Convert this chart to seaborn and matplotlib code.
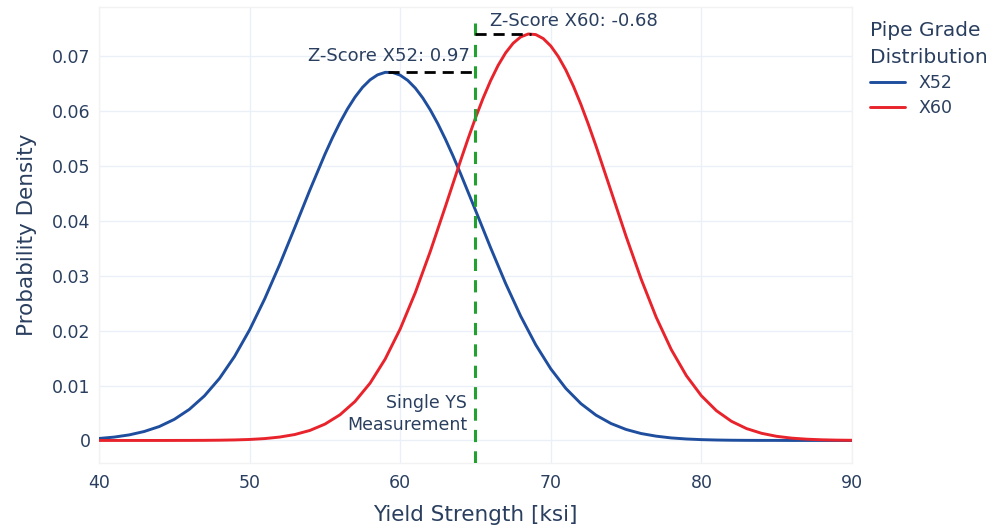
import numpy as np
import pandas as pd
import matplotlib
matplotlib.use('Agg')
import matplotlib.pyplot as plt
import seaborn as sns

# X52 curve: yield strength [ksi] and probability density
x52_strength = [40, 41, 42, 43, 44, 45, 46, 47, 48, 49, 50, 51, 52, 53, 54, 55, 55.5,
                56, 56.5, 57, 57.5, 58, 58.5, 59, 59.5, 60, 60.5, 61, 61.5, 62, 62.5,
                63, 63.5, 64, 65, 66, 67, 68, 69, 70, 71, 72, 73, 74, 75, 76, 77, 78,
                79, 80, 81, 82, 83, 84, 85, 86, 87, 88, 89, 90]
x52_density = [0.00036, 0.00061, 0.00101, 0.00163, 0.00253, 0.00384, 0.00566, 0.00811,
               0.01129, 0.01529, 0.02013, 0.02576, 0.03204, 0.03875, 0.04557, 0.05208,
               0.05509, 0.05786, 0.06035, 0.06250, 0.06428, 0.06564, 0.06655, 0.06700,
               0.06698, 0.06649, 0.06554, 0.06415, 0.06234, 0.06016, 0.05765, 0.05485,
               0.05183, 0.04862, 0.04190, 0.03510, 0.02858, 0.02263, 0.01741, 0.01303,
               0.00947, 0.00670, 0.00461, 0.00308, 0.00200, 0.00126, 0.00078, 0.00046,
               0.00027, 0.00015, 0.00008, 0.00004, 0.00002, 0.00001, 0.00001, 0.0, 0.0,
               0.0, 0.0, 0.0]

# X60 curve
x60_strength = [40, 41, 42, 43, 44, 45, 46, 47, 48, 49, 50, 51, 52, 53, 54, 55, 56, 57,
                58, 59, 60, 61, 62, 63, 64, 64.5, 65, 65.5, 66, 66.5, 67, 67.5, 68, 68.5,
                69, 69.5, 70, 70.5, 71, 71.5, 72, 72.5, 73, 74, 75, 76, 77, 78, 79, 80,
                81, 82, 83, 84, 85, 86, 87, 88, 89, 90]
x60_density = [0.0, 0.0, 0.0, 0.0, 0.0, 0.000005, 0.000011, 0.000023, 0.000048, 0.000095,
               0.00018, 0.00034, 0.00062, 0.00108, 0.00182, 0.00297, 0.00467, 0.00710,
               0.01043, 0.01480, 0.02030, 0.02689, 0.03442, 0.04257, 0.05086, 0.05487,
               0.05871, 0.06227, 0.06547, 0.06826, 0.07055, 0.07230, 0.07345, 0.07398,
               0.07388, 0.07315, 0.07180, 0.06987, 0.06742, 0.06449, 0.06116, 0.05750,
               0.05361, 0.04540, 0.03714, 0.02936, 0.02242, 0.01654, 0.01180, 0.00813,
               0.00541, 0.00348, 0.00216, 0.00130, 0.00075, 0.00042, 0.00023, 0.00012,
               0.00006, 0.00003]

grades = ["X52", "X60"]
measurement = 65
x52_peak = (59.2, 0.0670)
x60_peak = (68.7, 0.0740)
z_labels = ["Z-Score X52: 0.97", "Z-Score X60: -0.68"]

df = pd.concat([
    pd.DataFrame({"Yield Strength": x52_strength, "Density": x52_density, "Grade": "X52"}),
    pd.DataFrame({"Yield Strength": x60_strength, "Density": x60_density, "Grade": "X60"}),
], ignore_index=True)

text_color = "#2a3f5f"
grid_color = "#EBF0F8"
palette = {"X52": "#1f4e9e", "X60": "#e8232b"}

sns.set_style("white")
plt.rcParams['font.family'] = ['DejaVu Sans']

fig = plt.figure(figsize=(9.98, 5.29), dpi=100)
ax = fig.add_axes([0.0992, 0.1248, 0.7545, 0.862])

sns.lineplot(data=df, x="Yield Strength", y="Density", hue="Grade", hue_order=grades,
             palette=palette, linewidth=2.1, ax=ax, zorder=3)

ax.set_xlim(40, 90)
ax.set_ylim(-0.0041, 0.0789)
ax.set_xticks([40, 50, 60, 70, 80, 90])
ax.set_yticks([0, 0.01, 0.02, 0.03, 0.04, 0.05, 0.06, 0.07])
ax.set_yticklabels(["0", "0.01", "0.02", "0.03", "0.04", "0.05", "0.06", "0.07"])
ax.grid(True, color=grid_color, linewidth=1)
ax.set_axisbelow(True)
for s in ax.spines.values():
    s.set_color("#F2F2F2")
    s.set_linewidth(1)
ax.tick_params(axis='both', length=0, labelsize=12.5, colors=text_color)
ax.tick_params(axis='x', pad=8)
ax.tick_params(axis='y', pad=6)
ax.set_xlabel("Yield Strength [ksi]", fontsize=15.5, color=text_color, labelpad=9)
ax.set_ylabel("Probability Density", fontsize=15.5, color=text_color, labelpad=11)

# single measurement line
ax.plot([measurement, measurement], [-0.0041, 0.0776], color="#22a030",
        linewidth=2.2, linestyle=(0, (4, 3)), zorder=4)
ax.text(measurement - 0.55, 0.0048, "Single YS\nMeasurement", ha="right", va="center",
        fontsize=12.5, color=text_color, linespacing=1.25)

# peak-to-measurement markers
ax.plot([x52_peak[0], measurement], [x52_peak[1], x52_peak[1]], color="black",
        linewidth=2, linestyle=(0, (4, 2.5)), zorder=4)
ax.plot([measurement, x60_peak[0]], [x60_peak[1], x60_peak[1]], color="black",
        linewidth=2, linestyle=(0, (4, 2.5)), zorder=4)
ax.text(64.6, 0.0700, z_labels[0], ha="right", va="center", fontsize=13, color=text_color)
ax.text(65.95, 0.0764, z_labels[1], ha="left", va="center", fontsize=13, color=text_color)

leg = ax.legend(title="Pipe Grade\nDistribution", loc="upper left",
                bbox_to_anchor=(1.008, 0.995), frameon=False, fontsize=12.5,
                title_fontsize=14.5, handlelength=2.0, alignment="left",
                labelspacing=0.4, borderaxespad=0.3)
for t in leg.get_texts():
    t.set_color(text_color)
leg.get_title().set_color(text_color)
leg.get_title().set_linespacing(1.5)

fig.savefig("out.png", dpi=100)
